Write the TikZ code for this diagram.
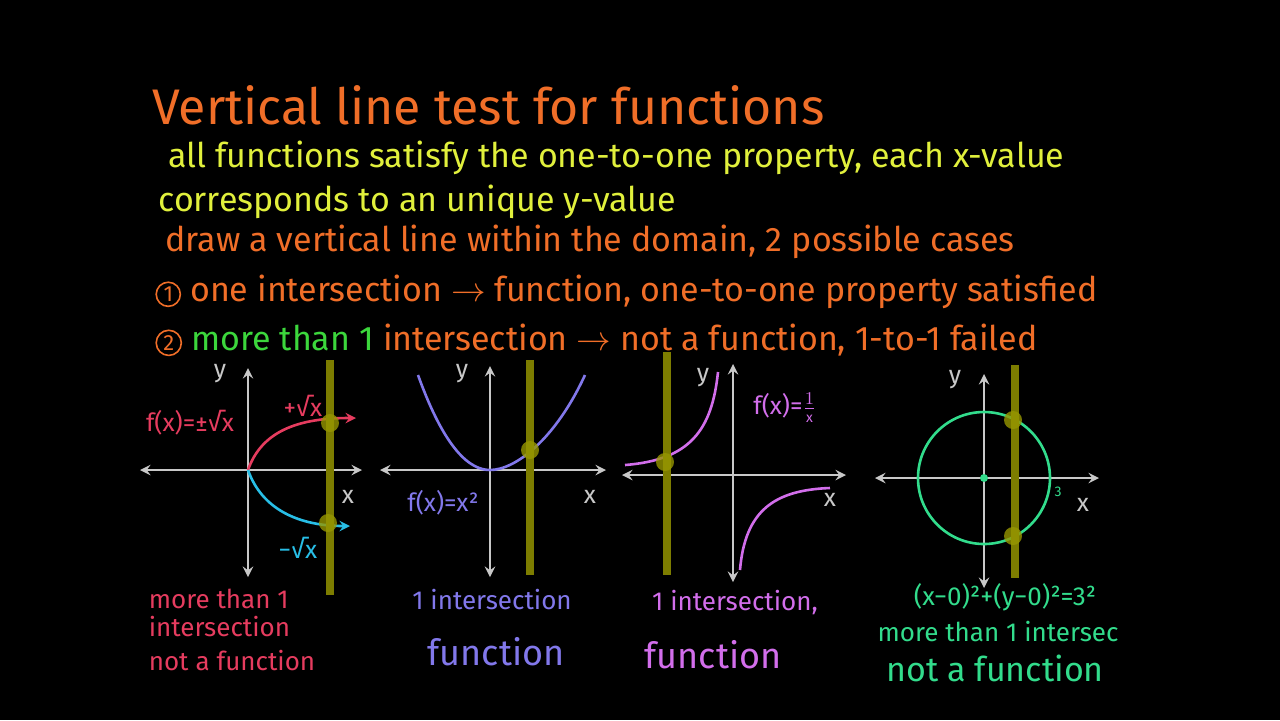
\documentclass[tikz,border=0pt]{standalone}
\usepackage{fontspec}
\setmainfont{Fira Sans}
\definecolor{cor}{RGB}{240,110,40}
\definecolor{cye}{RGB}{225,240,60}
\definecolor{cgr}{RGB}{60,215,60}
\definecolor{cre}{RGB}{230,60,95}
\definecolor{ccy}{RGB}{40,190,230}
\definecolor{cpu}{RGB}{130,120,235}
\definecolor{cma}{RGB}{210,110,235}
\definecolor{cmi}{RGB}{50,220,140}
\definecolor{col}{RGB}{125,125,0}
\definecolor{cax}{RGB}{200,200,200}
\newcommand{\circnum}[1]{\tikz[baseline=(cn.base)]\node[draw,circle,inner sep=1.2pt,line width=0.8pt] (cn) {\fontsize{11}{11}\selectfont #1};}
\begin{document}
\begin{tikzpicture}[x=0.5pt,y=-0.5pt,
 ax/.style={draw=cax,line width=1.3pt,<->,>=stealth},
 vl/.style={draw=col,line width=4pt},
 dt/.style={fill=col!80!yellow,opacity=0.8,circle,minimum size=9pt,inner sep=0pt},
 lbl/.style={font=\fontsize{12.5}{13}\selectfont,inner sep=0pt},
 tx/.style={font=\fontsize{17}{18}\selectfont,anchor=west,inner sep=0pt},
 bt/.style={font=\fontsize{13}{14}\selectfont,inner sep=0pt,align=center}]
\fill[black] (0,0) rectangle (1280,720);
\useasboundingbox (0,0) rectangle (1280,720);
\node[anchor=west,text=cor,font=\fontsize{25}{26}\selectfont,inner sep=0pt] (title) at (152,105) {Vertical line test for functions};
\node[tx,text=cye] (l1) at (168,158) {all functions satisfy the one-to-one property, each x-value};
\node[tx,text=cye] (l2) at (158,202) {corresponds to an unique y-value};
\node[tx,text=cor] (l3) at (165,242) {draw a vertical line within the domain, 2 possible cases};
\node[tx,text=cor] (l4) at (155,292) {\circnum{1} one intersection $\rightarrow$ function, one-to-one property satisfied};
\node[tx,text=cor] (l5) at (155,340) {\circnum{2} \textcolor{cgr}{more than 1} intersection $\rightarrow$ not a function, 1-to-1 failed};
% graph 1
\draw[ax] (140,470) -- (362,470);
\draw[ax] (248,368) -- (248,577);
\draw[cre,line width=1.3pt,->,>=stealth] (248,470) .. controls (262,430) and (300,418) .. (356,418);
\draw[ccy,line width=1.3pt,->,>=stealth] (248,470) .. controls (262,510) and (300,526) .. (350,526);
\draw[vl] (330,360) -- (330,595);
\node[dt] (d1) at (330,423) {}; \node[dt] (d2) at (328,523) {};
\node[lbl,text=cre] (f1) at (190,423) {f(x)=±√x};
\node[lbl,text=cre] (p1) at (303,406) {+√x};
\node[lbl,text=ccy] (m1) at (298,548) {−√x};
\node[lbl,text=cax] at (220,374) {y}; \node[lbl,text=cax] at (348,497) {x};
\node[bt,text=cre,align=left] (b1) at (232,630) {more than 1\\intersection\\[3pt]not a function};
% graph 2
\draw[ax] (380,470) -- (606,470);
\draw[ax] (490,366) -- (490,577);
\draw[cpu,line width=1.3pt] (418,375) .. controls (445,450) and (470,470) .. (490,470) .. controls (515,470) and (555,440) .. (585,375);
\draw[vl] (530,360) -- (530,575);
\node[dt] (d3) at (530,450) {};
\node[lbl,text=cpu] (f2) at (443,503) {f(x)=x²};
\node[lbl,text=cax] at (462,374) {y}; \node[lbl,text=cax] at (590,497) {x};
\node[bt,text=cpu] (b2) at (492,600) {1 intersection};
\node[bt,text=cpu,font=\fontsize{18}{18}\selectfont] (b2b) at (496,652) {function};
% graph 3
\draw[ax] (622,475) -- (846,475);
\draw[ax] (733,364) -- (733,582);
\draw[cma,line width=1.3pt] (625,465) .. controls (690,460) and (712,430) .. (718,372);
\draw[cma,line width=1.3pt] (740,570) .. controls (745,510) and (775,490) .. (830,488);
\draw[vl] (667,352) -- (667,575);
\node[dt] (d4) at (665,462) {};
\node[lbl,text=cma] (f3) at (785,408) {f(x)=$\frac{1}{\mbox{\scriptsize x}}$};
\node[lbl,text=cax] at (703,378) {y}; \node[lbl,text=cax] at (830,500) {x};
\node[bt,text=cma] (b3) at (735,603) {1 intersection,};
\node[bt,text=cma,font=\fontsize{18}{18}\selectfont] (b3b) at (713,655) {function};
% graph 4
\draw[ax] (875,478) -- (1099,478);
\draw[ax] (984,374) -- (984,588);
\draw[cmi,line width=1.3pt] (984,478) circle (66);
\fill[cmi] (984,478) circle (4);
\draw[vl] (1015,365) -- (1015,578);
\node[dt] (d5) at (1013,420) {}; \node[dt] (d6) at (1013,536) {};
\node[lbl,text=cmi,font=\fontsize{7}{7}\selectfont] at (1058,492) {3};
\node[lbl,text=cax] at (955,380) {y}; \node[lbl,text=cax] at (1083,505) {x};
\node[bt,text=cmi] (b4) at (1005,597) {(x−0)²+(y−0)²=3²};
\node[bt,text=cmi] (b4b) at (998,631) {more than 1 intersec};
\node[bt,text=cmi,font=\fontsize{17}{17}\selectfont] (b4c) at (995,668) {not a function};
\end{tikzpicture}
\end{document}
